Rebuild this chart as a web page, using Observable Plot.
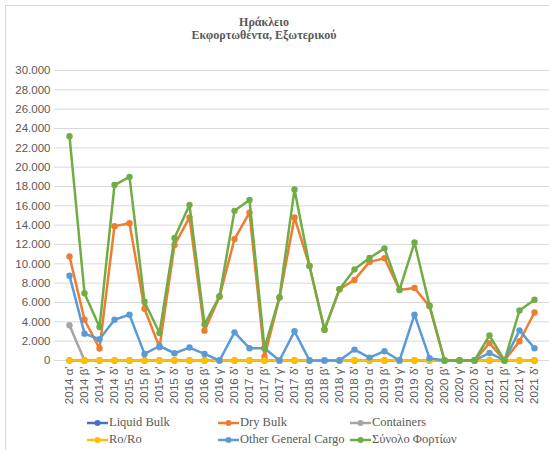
<!DOCTYPE html>
<html>
<head>
<meta charset="utf-8">
<script src="https://cdn.jsdelivr.net/npm/d3@7"></script>
<script src="https://cdn.jsdelivr.net/npm/@observablehq/plot@0.6"></script>
<style>
  html, body { margin: 0; padding: 0; background: #fff; }
  #wrap { position: relative; width: 549px; height: 450px; overflow: hidden; }
  #frame { position: absolute; left: 5px; top: 5px; width: 600px; height: 500px; border: 1px solid #d9d9d9; box-sizing: border-box; }
  .title { position: absolute; left: 0; width: 528px; text-align: center; font-family: "Liberation Serif", "DejaVu Serif", serif; font-weight: bold; font-size: 12px; color: #595959; line-height: 13px; }
  #chart { position: absolute; left: 0; top: 0; }
  .leg { position: absolute; display: flex; align-items: center; white-space: nowrap; }
  .leg span { font-family: "Liberation Serif", "DejaVu Serif", serif; font-size: 12.5px; color: #595959; }
  .leg svg { margin-right: 1px; }
</style>
</head>
<body>
<div id="wrap">
  <div id="frame"></div>
  <div class="title" style="top:16px">Ηράκλειο</div>
  <div class="title" style="top:29px">Εκφορτωθέντα, Εξωτερικού</div>
  <div id="chart"></div>
  <div id="legend"></div>
</div>
<script>
const quarters = [
  "2014 α'","2014 β'","2014 γ'","2014 δ'",
  "2015 α'","2015 β'","2015 γ'","2015 δ'",
  "2016 α'","2016 β'","2016 γ'","2016 δ'",
  "2017 α'","2017 β'","2017 γ'","2017 δ'",
  "2018 α'","2018 β'","2018 γ'","2018 δ'",
  "2019 α'","2019 β'","2019 γ'","2019 δ'",
  "2020 α'","2020 β'","2020 γ'","2020 δ'",
  "2021 α'","2021 β'","2021 γ'","2021 δ'"
];

const liquidBulk = [0,0,0,0, 0,0,0,0, 0,0,0,0, 0,0,0,0, 0,0,0,0, 0,0,0,0, 0,0,0,0, 0,0,0,0];
const dryBulk = [10770,4220,1240,13900, 14200,5350,1370,11950, 14800,3090,6600,12560, 15300,400,6500,14800, 9780,3190,7370,8340, 10200,10570,7300,7500, 5600,0,0,0, 1800,0,1990,4970];
const containers = [3640,0,0,0, 0,0,0,0, 0,0,0,0, 0,0,0,0, 0,0,0,0, 0,0,0,0, 0,0,0,0, 0,0,0,0];
const roro = [0,0,0,0, 0,0,0,0, 0,0,0,0, 0,0,0,0, 0,0,0,0, 0,0,0,0, 0,0,0,0, 0,0,0,0];
const otherGeneralCargo = [8780,2780,2200,4220, 4740,680,1500,750, 1340,680,0,2910, 1270,1270,0,3020, 0,0,0,1130, 300,960,0,4740, 240,0,0,0, 780,0,3120,1270];
const total = [23200,6960,3460,18150, 19000,6070,2840,12670, 16100,3740,6650,15480, 16600,1270,6550,17700, 9780,3190,7370,9430, 10600,11600,7300,12200, 5700,0,0,0, 2600,0,5180,6280];

const seriesNames = ["Liquid Bulk","Dry Bulk","Containers","Ro/Ro","Other General Cargo","Σύνολο Φορτίων"];
const seriesValues = [liquidBulk, dryBulk, containers, roro, otherGeneralCargo, total];
const seriesColors = ["#4472C4","#ED7D31","#A5A5A5","#FFC000","#5B9BD5","#70AD47"];
const yTicks = [0,2000,4000,6000,8000,10000,12000,14000,16000,18000,20000,22000,24000,26000,28000,30000];

const fmt = d3.formatLocale({decimal: ",", thousands: ".", grouping: [3], currency: ["", "€"]}).format(",");

const marks = [Plot.ruleY(yTicks, {stroke: "#d9d9d9", strokeWidth: 1})];
seriesNames.forEach((name, i) => {
  const rows = quarters.map((q, j) => ({q, v: seriesValues[i][j], s: name}));
  marks.push(Plot.line(rows, {x: "q", y: "v", stroke: seriesColors[i], strokeWidth: 2.5, curve: "linear"}));
  marks.push(Plot.dot(rows, {x: "q", y: "v", fill: seriesColors[i], r: 3.2, stroke: "none"}));
});

const chart = Plot.plot({
  width: 549,
  height: 410,
  marginTop: 70,
  marginBottom: 50,
  marginLeft: 54,
  marginRight: 0,
  style: {fontFamily: "'Liberation Sans', sans-serif", fontSize: "11.5px", color: "#595959", overflow: "visible", background: "transparent"},
  x: {type: "point", domain: quarters, padding: 0.5, label: null, tickSize: 0, tickPadding: 6, tickRotate: -90},
  y: {domain: [0, 30000], ticks: yTicks, tickFormat: fmt, label: null, tickSize: 0, tickPadding: 4},
  marks
});
document.getElementById("chart").appendChild(chart);

// legend
const legendPos = [
  [87, 415], [218, 415], [350, 415],
  [87, 432], [218, 432], [350, 432]
];
const legend = document.getElementById("legend");
seriesNames.forEach((name, i) => {
  const d = document.createElement("div");
  d.className = "leg";
  d.style.left = legendPos[i][0] + "px";
  d.style.top = legendPos[i][1] + "px";
  d.innerHTML = `<svg width="21" height="12"><line x1="0" y1="6" x2="21" y2="6" stroke="${seriesColors[i]}" stroke-width="2.5"/><circle cx="10.5" cy="6" r="3" fill="${seriesColors[i]}"/></svg><span>${name}</span>`;
  legend.appendChild(d);
});
</script>
</body>
</html>
